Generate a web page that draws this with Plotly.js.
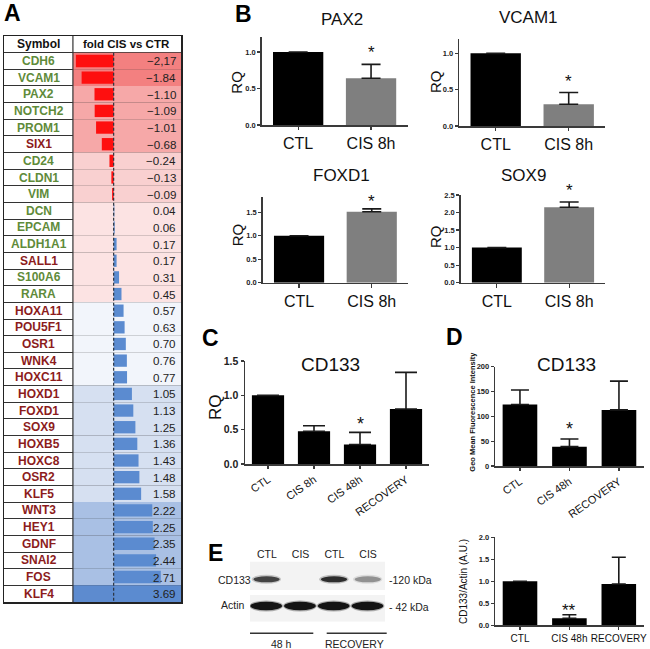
<!DOCTYPE html>
<html><head><meta charset="utf-8">
<script src="https://cdn.plot.ly/plotly-3.0.1.min.js"></script>
<style>html,body{margin:0;padding:0;background:#fff}#chart{width:650px;height:649px}</style>
</head><body><div id="chart"></div>
<script>
// ---------- Panel A data ----------
const genes = ['CDH6','VCAM1','PAX2','NOTCH2','PROM1','SIX1','CD24','CLDN1','VIM','DCN','EPCAM','ALDH1A1','SALL1','S100A6','RARA','HOXA11','POU5F1','OSR1','WNK4','HOXC11','HOXD1','FOXD1','SOX9','HOXB5','HOXC8','OSR2','KLF5','WNT3','HEY1','GDNF','SNAI2','FOS','KLF4'];
const foldChange = [-2.17,-1.84,-1.10,-1.09,-1.01,-0.68,-0.24,-0.13,-0.09,0.04,0.06,0.17,0.17,0.31,0.45,0.57,0.63,0.70,0.76,0.77,1.05,1.13,1.25,1.36,1.43,1.48,1.58,2.22,2.25,2.35,2.44,2.71,3.69];
const foldLabels = ['\u22122,17','\u22121.84','\u22121.10','\u22121.09','\u22121.01','\u22120.68','\u22120.24','\u22120.13','\u22120.09','0.04','0.06','0.17','0.17','0.31','0.45','0.57','0.63','0.70','0.76','0.77','1.05','1.13','1.25','1.36','1.43','1.48','1.58','2.22','2.25','2.35','2.44','2.71','3.69'];
const geneGroup = ['g','g','g','g','g','r','g','g','g','g','g','g','r','g','g','r','r','r','r','r','r','r','r','r','r','r','r','r','r','r','r','r','r'];
const tableHeader = ['Symbol','fold CIS vs CTR'];

// ---------- Panel B data ----------
const qpcrCats = ['CTL','CIS 8h'];
const pax2 = [1.0, 0.64],  pax2Err = [null, 0.19];
const vcam1 = [1.0, 0.30], vcam1Err = [null, 0.16];
const foxd1 = [1.0, 1.51], foxd1Err = [null, 0.06];
const sox9 = [1.0, 2.15],  sox9Err = [null, 0.15];
const qpcrSig = ['', '*'];

// ---------- Panel C data ----------
const cd133Cats = ['CTL','CIS 8h','CIS 48h','RECOVERY'];
const cd133RQ = [1.0, 0.478, 0.285, 0.80];
const cd133RQErr = [null, 0.08, 0.175, 0.535];
const cd133RQSig = ['', '', '*', ''];

// ---------- Panel D data ----------
const facsCats = ['CTL','CIS 48h','RECOVERY'];
const cd133MFI = [124, 39, 113];
const cd133MFIErr = [29, 15.5, 58];
const cd133MFISig = ['', '*', ''];

// ---------- Panel E data ----------
const wbCats = ['CTL','CIS 48h','RECOVERY'];
const wbRatio = [1.0, 0.16, 0.94];
const wbRatioErr = [null, 0.08, 0.605];
const wbSig = ['', '**', ''];
const blotLanes = ['CTL','CIS','CTL','CIS'];
const cd133Band = [0.82, 0.0, 0.95, 0.42];
const actinBand = [1, 1, 1, 1];

// ---------- helpers ----------
const W = 650, H = 649;
const px = x => x / W;
const py = y => 1 - y / H;
const FONT = 'Liberation Sans, Arial, sans-serif';
const AX = '#3a3a3a';

const BG_MIN = -2.34, BG_MAX = 3.87;
function rowColor(v){
  if (v <= -1.5) return '#f38080';
  if (v <= -0.5) return '#f6a8a8';
  if (v < -0.05) return '#f9d0d0';
  if (v < 0.5) return '#fce3e3';
  if (v < 1.0) return '#f2f5fb';
  if (v < 2.0) return '#d6e0f1';
  if (v < 3.0) return '#a9c0e4';
  return '#5d8bcf';
}
const groupColor = {g:'#5f8b3a', r:'#8c1c1c'};
const rowIdx = genes.map((g,i)=>i);

const traces = [];
// Panel A: cell backgrounds and fold-change bars
traces.push({type:'bar', orientation:'h', y:rowIdx, x:genes.map(()=>BG_MAX-BG_MIN), base:BG_MIN,
  width:1, marker:{color:foldChange.map(rowColor), line:{width:0}}, xaxis:'x', yaxis:'y', hoverinfo:'skip', showlegend:false});
traces.push({type:'bar', orientation:'h', y:rowIdx, x:foldChange, width:0.74,
  marker:{color:foldChange.map(v=>v<0?'#fe0f0f':'#5b8bd0'), line:{width:0}}, xaxis:'x', yaxis:'y', hoverinfo:'skip', showlegend:false});

function barTrace(n, cats, vals, errs, colors, width, capW){
  return {type:'bar', x:cats, y:vals, xaxis:'x'+n, yaxis:'y'+n, width:width,
    marker:{color:colors, line:{width:0}},
    error_y:{type:'data', symmetric:false, array:errs, arrayminus:errs.map(e=>e==null?null:0),
      color:'#1a1a1a', thickness:1.6, width:capW, visible:true},
    hoverinfo:'skip', showlegend:false};
}
const bCol = ['#000000','#7f7f7f'];
traces.push(barTrace(2, qpcrCats, pax2, pax2Err, bCol, 0.69, 9.5));
traces.push(barTrace(3, qpcrCats, vcam1, vcam1Err, bCol, 0.69, 9.5));
traces.push(barTrace(4, qpcrCats, foxd1, foxd1Err, bCol, 0.69, 9.5));
traces.push(barTrace(5, qpcrCats, sox9, sox9Err, bCol, 0.69, 9.5));
traces.push(barTrace(6, cd133Cats, cd133RQ, cd133RQErr, '#000', 0.70, 11));
traces.push(barTrace(7, facsCats, cd133MFI, cd133MFIErr, '#000', 0.70, 9));
traces.push(barTrace(8, wbCats, wbRatio, wbRatioErr, '#000', 0.70, 7));

// Blot lane labels
const LABEL_Y = 66.7, CD133_Y = 42.4, ACTIN_Y = 15.7;
traces.push({type:'scatter', mode:'text', x:blotLanes.map((l,i)=>i), y:blotLanes.map(()=>LABEL_Y),
  text:blotLanes, textfont:{size:10.5, color:'#222', family:FONT}, xaxis:'x9', yaxis:'y9', hoverinfo:'skip', showlegend:false});

// ---------- axes ----------
function xAx(domain, anchor, fs, angle){
  return {domain, anchor, type:'category', showline:true, linecolor:AX, linewidth:1.5, ticks:'outside', ticklen:3.5,
    tickcolor:AX, tickwidth:1.2, tickfont:{size:fs, color:'#111', family:FONT}, tickangle:angle||0,
    showgrid:false, zeroline:false, fixedrange:true, automargin:false};
}
function yAx(domain, anchor, range, dtick, fs, fmt){
  return {domain, anchor, range, dtick, tick0:0, tickformat:fmt, showline:true, linecolor:AX, linewidth:1.5,
    ticks:'outside', ticklen:3, tickcolor:AX, tickwidth:1.2,
    tickfont:{size:fs, color:'#222', family:FONT, weight:'bold'}, showgrid:false, zeroline:false, fixedrange:true, automargin:false};
}

const layout = {
  width:W, height:H, margin:{l:0,r:0,t:0,b:0}, autosize:false,
  paper_bgcolor:'#fff', plot_bgcolor:'rgba(0,0,0,0)', barmode:'overlay', showlegend:false,
  font:{family:FONT, color:'#111'},
  xaxis:{domain:[px(4),px(181)], anchor:'y', range:[-6.30, BG_MAX], showgrid:false, zeroline:false, showticklabels:false,
    ticks:'', showline:true, mirror:true, linecolor:'#222', linewidth:1.5, fixedrange:true},
  yaxis:{domain:[py(602),py(36)], anchor:'x', range:[32.5,-1.5], tick0:0.5, dtick:1, showgrid:true, gridcolor:'#333', gridwidth:1,
    zeroline:false, showticklabels:false, ticks:'', showline:true, mirror:true, linecolor:'#222', linewidth:1.5, fixedrange:true},
  xaxis2:xAx([px(261.7),px(407.5)],'y2',16), yaxis2:yAx([py(125),py(37.4)],'x2',[0,1.2],0.5,7.5,'.1f'),
  xaxis3:xAx([px(459.2),px(605.2)],'y3',16), yaxis3:yAx([py(126),py(38.8)],'x3',[0,1.2],0.5,7.5,'.1f'),
  xaxis4:xAx([px(262.7),px(408.1)],'y4',16), yaxis4:yAx([py(282.7),py(196.7)],'x4',[0,1.83],0.5,7.5,'.1f'),
  xaxis5:xAx([px(460.7),px(605.3)],'y5',16), yaxis5:yAx([py(282.7),py(195)],'x5',[0,2.5],0.5,7.5,'.1f'),
  xaxis6:xAx([px(245),px(429)],'y6',11,-35), yaxis6:yAx([py(464),py(361)],'x6',[0,1.5],0.5,10.5,'.1f'),
  xaxis7:xAx([px(495.2),px(643.7)],'y7',11,-35), yaxis7:yAx([py(466),py(366.7)],'x7',[0,200],50,7.5,'d'),
  xaxis8:xAx([px(495.3),px(643.5)],'y8',10), yaxis8:yAx([py(625.3),py(537.3)],'x8',[0,2],0.5,7.5,'.1f'),
  xaxis9:{domain:[px(250),px(385)], anchor:'y9', range:[-0.5,3.5], visible:false, fixedrange:true},
  yaxis9:{domain:[py(621.7),py(548)], anchor:'x9', range:[0,73.7], visible:false, fixedrange:true},
  shapes:[], annotations:[]
};

const S = layout.shapes, A = layout.annotations;
function note(o){ A.push(Object.assign({showarrow:false, xanchor:'center', yanchor:'middle'}, o)); }
// Table divider and dashed zero line
S.push({type:'line', xref:'x', yref:'y', x0:BG_MIN, x1:BG_MIN, y0:-1.5, y1:32.5, line:{color:'#333', width:1.2}});
S.push({type:'line', xref:'x', yref:'y', x0:0, x1:0, y0:-0.5, y1:32.5, line:{color:'#2b3440', width:1.2, dash:'3px,2px'}});

// Table text
note({xref:'paper', yref:'y', x:px(38.5), y:-1, text:'<b>'+tableHeader[0]+'</b>', font:{size:12, color:'#111'}});
note({xref:'x', yref:'y', x:(BG_MIN+BG_MAX)/2, y:-1, text:'<b>'+tableHeader[1]+'</b>', font:{size:11.5, color:'#111'}});
genes.forEach((g,i)=>{
  note({xref:'paper', yref:'y', x:px(38.5), y:i, text:'<b>'+g+'</b>', font:{size:12, color:groupColor[geneGroup[i]]}});
  note({xref:'paper', yref:'y', x:px(178), xanchor:'right', y:i, text:foldLabels[i], font:{size:11.6, color:'#222'}});
});

// Panel letters
[['A',12.5,11.5],['B',243.5,12.5],['C',210,336.5],['D',455,335],['E',215,551.5]].forEach(([t,x,y])=>{
  note({xref:'paper', yref:'paper', x:px(x), y:py(y+1.5), text:'<b>'+t+'</b>', font:{size:23, color:'#000'}});
});

// Panel titles
[['PAX2',341.7,18,17],['VCAM1',528,17,17],['FOXD1',341.7,174,17],['SOX9',523,174,17],['CD133',330,363,19],['CD133',566.7,363,19]].forEach(([t,x,y,s])=>{
  note({xref:'paper', yref:'paper', x:px(x), y:py(y+1), text:t, font:{size:s, color:'#111'}});
});

// Axis titles (rotated)
[['RQ',236.7,82,15],['RQ',435,81,15],['RQ',238.3,235,15],['RQ',435,236,15],['RQ',215,407,17],
 ['<b>Geo Mean Fluorescence Intensity</b>',472.7,412,7.5],['CD133/Actin (A.U.)',463.3,581.7,10]].forEach(([t,x,y,s])=>{
  note({xref:'paper', yref:'paper', x:px(x), y:py(y), text:t, textangle:-90, font:{size:s, color:'#111'}});
});

// Significance marks
function sig(n, cats, vals, errs, marks, fs, shift){
  cats.forEach((c,i)=>{
    if(!marks[i]) return;
    A.push({xref:'x'+n, yref:'y'+n, x:c, y:vals[i]+(errs[i]||0), xanchor:'center', yanchor:'bottom', yshift:shift, text:marks[i], showarrow:false, font:{size:fs, color:'#111'}});
  });
}
sig(2, qpcrCats, pax2, pax2Err, qpcrSig, 17, 0);
sig(3, qpcrCats, vcam1, vcam1Err, qpcrSig, 17, 0);
sig(4, qpcrCats, foxd1, foxd1Err, qpcrSig, 17, -4);
sig(5, qpcrCats, sox9, sox9Err, qpcrSig, 17, 0);
sig(6, cd133Cats, cd133RQ, cd133RQErr, cd133RQSig, 18, -4);
sig(7, facsCats, cd133MFI, cd133MFIErr, cd133MFISig, 18, -2);
sig(8, wbCats, wbRatio, wbRatioErr, wbSig, 17, -7);

// ---------- Western blot (drawn on hidden axes x9/y9) ----------
S.push({type:'rect', xref:'x9', yref:'y9', x0:-0.5, x1:3.5, y0:31.7, y1:60, fillcolor:'#f3f3f3', line:{width:0}, layer:'below'});
S.push({type:'rect', xref:'x9', yref:'y9', x0:-0.5, x1:3.5, y0:0, y1:26.7, fillcolor:'#f3f3f3', line:{width:0}, layer:'below'});
cd133Band.forEach((a,i)=>{
  if(a<=0.02) return;
  S.push({type:'circle', xref:'x9', yref:'y9', x0:i-0.45, x1:i+0.42, y0:CD133_Y-4.5, y1:CD133_Y+4.5, fillcolor:'rgba(30,30,30,'+(a*0.25)+')', line:{width:0}});
  S.push({type:'circle', xref:'x9', yref:'y9', x0:i-0.40, x1:i+0.38, y0:CD133_Y-3, y1:CD133_Y+3, fillcolor:'rgba(20,20,20,'+(a*0.9)+')', line:{width:0}});
});
actinBand.forEach((a,i)=>{
  S.push({type:'circle', xref:'x9', yref:'y9', x0:i-0.52, x1:i+0.48, y0:ACTIN_Y-5.5, y1:ACTIN_Y+5.5, fillcolor:'rgba(40,40,40,'+(a*0.35)+')', line:{width:0}});
  S.push({type:'circle', xref:'x9', yref:'y9', x0:i-0.49, x1:i+0.45, y0:ACTIN_Y-4.2, y1:ACTIN_Y+4.2, fillcolor:'rgba(12,12,12,'+(a*0.95)+')', line:{width:0}});
});
// Blot labels
[['CD133',234.3,580,'center'],['Actin',233,605,'center'],['-120 kDa',386.5,580,'left'],['- 42 kDa',386.5,607,'left'],
 ['48 h',281.7,644,'center'],['RECOVERY',355,644,'center']].forEach(([t,x,y,al])=>{
  note({xref:'paper', yref:'paper', x:px(x), y:py(y), xanchor:al, text:t, font:{size:10.5, color:'#222'}});
});
S.push({type:'line', xref:'paper', yref:'paper', x0:px(250), x1:px(313.3), y0:py(633.3), y1:py(633.3), line:{color:'#333', width:1.5}});
S.push({type:'line', xref:'paper', yref:'paper', x0:px(326.7), x1:px(386.7), y0:py(633.3), y1:py(633.3), line:{color:'#333', width:1.5}});

Plotly.newPlot('chart', traces, layout, {staticPlot:true, displayModeBar:false});
</script>
</body></html>
